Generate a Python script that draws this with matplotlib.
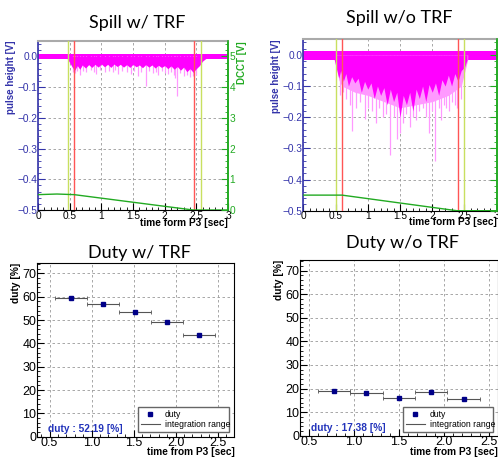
import matplotlib
matplotlib.use("Agg")
import matplotlib.pyplot as plt
from matplotlib.ticker import MultipleLocator
from matplotlib.lines import Line2D

plt.rcParams['font.family'] = ['Liberation Sans', 'DejaVu Sans']

# ---- spill w/ TRF (pulse height, V) ----
trf_base = (0.009, -0.007)
trf_dense_t = [0.46, 0.5, 0.54, 0.58, 0.62, 0.66, 0.7, 0.75, 0.8, 0.85, 0.9, 0.95, 1.0, 1.05,
               1.1, 1.15, 1.2, 1.25, 1.3, 1.35, 1.4, 1.45, 1.5, 1.55, 1.6, 1.65, 1.7, 1.75,
               1.8, 1.85, 1.9, 1.95, 2.0, 2.05, 2.1, 2.15, 2.2, 2.25, 2.3, 2.35, 2.4, 2.45,
               2.5, 2.55, 2.6, 2.65]
trf_dense_v = [-0.007, -0.02, -0.035, -0.045, -0.03, -0.042, -0.028, -0.038, -0.027, -0.036,
               -0.026, -0.035, -0.025, -0.034, -0.026, -0.036, -0.025, -0.033, -0.026, -0.035,
               -0.027, -0.036, -0.026, -0.034, -0.028, -0.037, -0.027, -0.035, -0.028, -0.038,
               -0.029, -0.036, -0.03, -0.04, -0.031, -0.042, -0.033, -0.045, -0.035, -0.05,
               -0.04, -0.052, -0.04, -0.03, -0.015, -0.007]
trf_spike_t = [0.56, 0.58, 0.62, 0.66, 0.71, 0.75, 0.83, 0.88, 0.92, 0.98, 1.05, 1.12, 1.18,
               1.22, 1.27, 1.33, 1.40, 1.47, 1.52, 1.58, 1.63, 1.70, 1.76, 1.82, 1.86, 1.90,
               1.96, 2.01, 2.05, 2.10, 2.14, 2.17, 2.19, 2.24, 2.30, 2.35, 2.40, 2.45, 2.50]
trf_spike_v = [-0.05, -0.055, -0.048, -0.061, -0.047, -0.05, -0.046, -0.052, -0.056, -0.045,
               -0.05, -0.047, -0.052, -0.045, -0.056, -0.048, -0.05, -0.056, -0.047, -0.064,
               -0.05, -0.097, -0.048, -0.055, -0.05, -0.06, -0.049, -0.055, -0.058, -0.05,
               -0.062, -0.07, -0.129, -0.055, -0.065, -0.06, -0.068, -0.064, -0.06]
trf_dcct_t = [0.0, 0.3, 0.57, 2.45, 3.0]
trf_dcct_v = [0.5, 0.52, 0.5, 0.0, 0.0]
trf_gate = [0.48, 2.58]
trf_range = [0.57, 2.47]

# ---- spill w/o TRF ----
notrf_base = (0.012, -0.016)
notrf_dense_t = [0.48, 0.52, 0.55, 0.58, 0.62, 0.66, 0.7, 0.75, 0.8, 0.85, 0.9, 0.95, 1.0,
                 1.05, 1.1, 1.15, 1.2, 1.25, 1.3, 1.35, 1.4, 1.45, 1.5, 1.55, 1.6, 1.65, 1.7,
                 1.75, 1.8, 1.85, 1.9, 1.95, 2.0, 2.05, 2.1, 2.15, 2.2, 2.25, 2.3, 2.35, 2.4,
                 2.45, 2.5, 2.54]
notrf_dense_v = [-0.016, -0.05, -0.075, -0.05, -0.085, -0.06, -0.1, -0.07, -0.09, -0.075,
                 -0.12, -0.085, -0.11, -0.09, -0.14, -0.1, -0.13, -0.105, -0.16, -0.11,
                 -0.15, -0.12, -0.2, -0.13, -0.16, -0.12, -0.18, -0.11, -0.14, -0.1,
                 -0.15, -0.095, -0.12, -0.09, -0.13, -0.08, -0.1, -0.065, -0.1, -0.06,
                 -0.085, -0.05, -0.04, -0.016]
notrf_light_t = [0.5, 0.55, 0.6, 0.8, 1.0, 1.25, 1.5, 1.75, 2.0, 2.25, 2.45, 2.55]
notrf_light_v = [-0.016, -0.08, -0.1, -0.12, -0.13, -0.15, -0.17, -0.16, -0.15, -0.13, -0.1, -0.016]
notrf_spike_t = [0.57, 0.62, 0.67, 0.72, 0.75, 0.82, 0.88, 0.95, 1.0, 1.06, 1.13, 1.18, 1.24,
                 1.29, 1.35, 1.40, 1.46, 1.50, 1.55, 1.60, 1.66, 1.70, 1.75, 1.80, 1.85, 1.90,
                 1.95, 2.00, 2.05, 2.10, 2.13, 2.18, 2.22, 2.26, 2.31, 2.35, 2.39, 2.44]
notrf_spike_v = [-0.13, -0.12, -0.14, -0.16, -0.245, -0.17, -0.15, -0.205, -0.17, -0.18,
                 -0.22, -0.17, -0.2, -0.19, -0.32, -0.2, -0.27, -0.25, -0.22, -0.19, -0.23,
                 -0.2, -0.21, -0.18, -0.17, -0.2, -0.25, -0.18, -0.34, -0.17, -0.21, -0.16,
                 -0.17, -0.18, -0.15, -0.16, -0.17, -0.14]
notrf_dcct_t = [0.0, 0.6, 2.38, 3.0]
notrf_dcct_v = [0.5, 0.5, 0.0, 0.0]
notrf_gate = [0.51, 2.5]
notrf_range = [0.6, 2.4]

# ---- duty ----
duty_trf_x = [0.76, 1.14, 1.52, 1.90, 2.28]
duty_trf_y = [59.5, 57.0, 53.4, 49.4, 43.5]
duty_trf_xerr = [0.19, 0.19, 0.19, 0.19, 0.19]
duty_notrf_x = [0.78, 1.14, 1.50, 1.86, 2.22]
duty_notrf_y = [18.8, 18.1, 15.9, 18.4, 15.7]
duty_notrf_xerr = [0.18, 0.18, 0.18, 0.18, 0.18]

BLUE = '#3333aa'
GREEN = '#22aa22'
MAG = '#ff00ff'
PINK = '#ff99ff'

fig = plt.figure(figsize=(4.98, 4.57), dpi=100)
W, H = 498.0, 457.0


def box(l, t, r, b):
    return [l / W, 1 - b / H, (r - l) / W, (b - t) / H]


def place_xlabel(ax, text, y):
    # right aligned, baseline at given axes-fraction height (ROOT style)
    ax.set_xlabel(text, fontsize=7.3, fontweight='bold')
    ax.xaxis.label.set_ha('right')
    ax.xaxis.label.set_va('baseline')
    ax.xaxis.set_label_coords(1.0, y)


def spill(rect, base, dt, dv, lt, lv, st, sv, ct, cv, gate, rng, right_labels, xlab_y):
    ax = fig.add_axes(rect)
    ax.set_xlim(0, 3)
    ax.set_ylim(-0.5, 0.05)
    ax.grid(True, color='#999999', ls=(0, (3, 3)), lw=0.6)
    ax.set_axisbelow(True)
    ax.fill_between([0, 3], base[1], base[0], color=MAG, lw=0, zorder=2)
    if lt:
        ax.fill_between(lt, lv, 0, color=PINK, lw=0, zorder=2)
    ax.vlines(st, 0, sv, color=PINK, lw=0.9, zorder=2)
    ax.fill_between(dt, dv, 0, color=MAG, lw=0, zorder=3)
    for g in gate:
        ax.axvline(g, color='#c8e060', lw=1.0, zorder=4)
    for r in rng:
        ax.axvline(r, color='#ff5555', lw=1.0, zorder=4)
    ax.xaxis.set_minor_locator(MultipleLocator(0.1))
    ax.yaxis.set_major_locator(MultipleLocator(0.1))
    ax.yaxis.set_minor_locator(MultipleLocator(0.02))
    ax.set_xticks([0, 0.5, 1, 1.5, 2, 2.5, 3])
    ax.set_xticklabels(['0', '0.5', '1', '1.5', '2', '2.5', '3'])
    ax.tick_params(which='both', direction='in', top=False, right=False, labelsize=7.3, pad=0.5)
    ax.tick_params(which='major', length=5, width=0.8)
    ax.tick_params(which='minor', length=2.5, width=0.6)
    ax.tick_params(axis='y', which='both', colors=BLUE)
    ax.tick_params(axis='x', which='both', colors='black')
    ax.spines['left'].set_color(BLUE)
    ax.spines['left'].set_linewidth(1.2)
    ax.spines['right'].set_color(GREEN)
    ax.spines['right'].set_linewidth(1.2)
    ax.spines['top'].set_color('#aaaaaa')
    ax.spines['top'].set_linewidth(1.5)
    ax.set_ylabel('pulse height [V]', loc='top', color=BLUE, fontsize=7,
                  fontweight='bold', labelpad=1)
    place_xlabel(ax, 'time form P3 [sec]', xlab_y)
    ax2 = ax.twinx()
    ax2.set_ylim(0, 5.5)
    ax2.plot(ct, cv, color=GREEN, lw=1.0)
    ax2.yaxis.set_major_locator(MultipleLocator(1))
    ax2.yaxis.set_minor_locator(MultipleLocator(0.2))
    ax2.tick_params(which='both', direction='in', colors=GREEN, labelsize=7.3, pad=1,
                    labelright=right_labels)
    ax2.tick_params(which='major', length=5, width=0.8)
    ax2.tick_params(which='minor', length=2.5, width=0.6)
    for s in ['left', 'top', 'bottom']:
        ax2.spines[s].set_visible(False)
    ax2.spines['right'].set_color(GREEN)
    ax2.spines['right'].set_linewidth(1.2)
    if right_labels:
        ax2.set_ylabel('DCCT [V]', loc='top', color=GREEN, fontsize=7,
                       fontweight='bold', labelpad=1)
    return ax


def duty(rect, xs, ys, xerr, xlim, txt, leg_box, xlab_y):
    ax = fig.add_axes(rect)
    ax.set_xlim(*xlim)
    ax.set_ylim(0, 74.5)
    ax.grid(True, color='#999999', ls=(0, (3, 3)), lw=0.6)
    ax.set_axisbelow(True)
    ax.errorbar(xs, ys, xerr=xerr, fmt='s', ms=3.5, color='#000088',
                ecolor='#555555', elinewidth=0.8, capsize=1.5, capthick=0.6)
    ax.xaxis.set_major_locator(MultipleLocator(0.5))
    ax.xaxis.set_minor_locator(MultipleLocator(0.1))
    ax.yaxis.set_major_locator(MultipleLocator(10))
    ax.yaxis.set_minor_locator(MultipleLocator(2))
    ax.tick_params(which='both', direction='in', top=False, right=False, labelsize=9, pad=0.5)
    ax.tick_params(which='major', length=5, width=0.8)
    ax.tick_params(which='minor', length=2.5, width=0.6)
    for s in ax.spines.values():
        s.set_linewidth(0.8)
    ax.set_ylabel('duty [%]', loc='top', fontsize=7.3, fontweight='bold', labelpad=1)
    place_xlabel(ax, 'time from P3 [sec]', xlab_y)
    ax.text(0.055, 0.018, txt, transform=ax.transAxes, color='#2233bb',
            fontsize=7.3, fontweight='bold', ha='left', va='bottom')
    handles = [Line2D([], [], marker='s', ms=3.5, color='#000088', ls='none'),
               Line2D([], [], color='#555555', lw=0.8)]
    ax.legend(handles, ['duty', 'integration range'], loc='lower left',
              bbox_to_anchor=leg_box, mode='expand', fontsize=6.2, frameon=True,
              fancybox=False, edgecolor='#666666', framealpha=1, borderpad=0.3,
              labelspacing=0.2, handlelength=2.2, handletextpad=0.6, borderaxespad=0)
    return ax


spill(box(38, 41, 228, 210), trf_base, trf_dense_t, trf_dense_v, [], [],
      trf_spike_t, trf_spike_v, trf_dcct_t, trf_dcct_v, trf_gate, trf_range, True, -0.095)
spill(box(303.3, 39.3, 496.7, 210.7), notrf_base, notrf_dense_t, notrf_dense_v,
      notrf_light_t, notrf_light_v, notrf_spike_t, notrf_spike_v,
      notrf_dcct_t, notrf_dcct_v, notrf_gate, notrf_range, False, -0.085)

duty(box(37, 263, 234.4, 436.7), duty_trf_x, duty_trf_y, duty_trf_xerr, (0.35, 2.7),
     'duty : 52.19 [%]', (0.512, 0.027, 0.461, 0.127), -0.103)
duty(box(300, 260, 497.7, 435.7), duty_notrf_x, duty_notrf_y, duty_notrf_xerr, (0.4, 2.6),
     'duty : 17.38 [%]', (0.521, 0.021, 0.455, 0.125), -0.108)

titles = [('Spill w/ TRF', 137, 23), ('Spill w/o TRF', 399, 18),
          ('Duty w/ TRF', 139, 253), ('Duty w/o TRF', 402, 243)]
for t, x, y in titles:
    fig.text(x / W, 1 - y / H, t, ha='center', va='center', fontsize=13,
             family=['Lato', 'DejaVu Sans'])

fig.savefig('out.png', dpi=100)
